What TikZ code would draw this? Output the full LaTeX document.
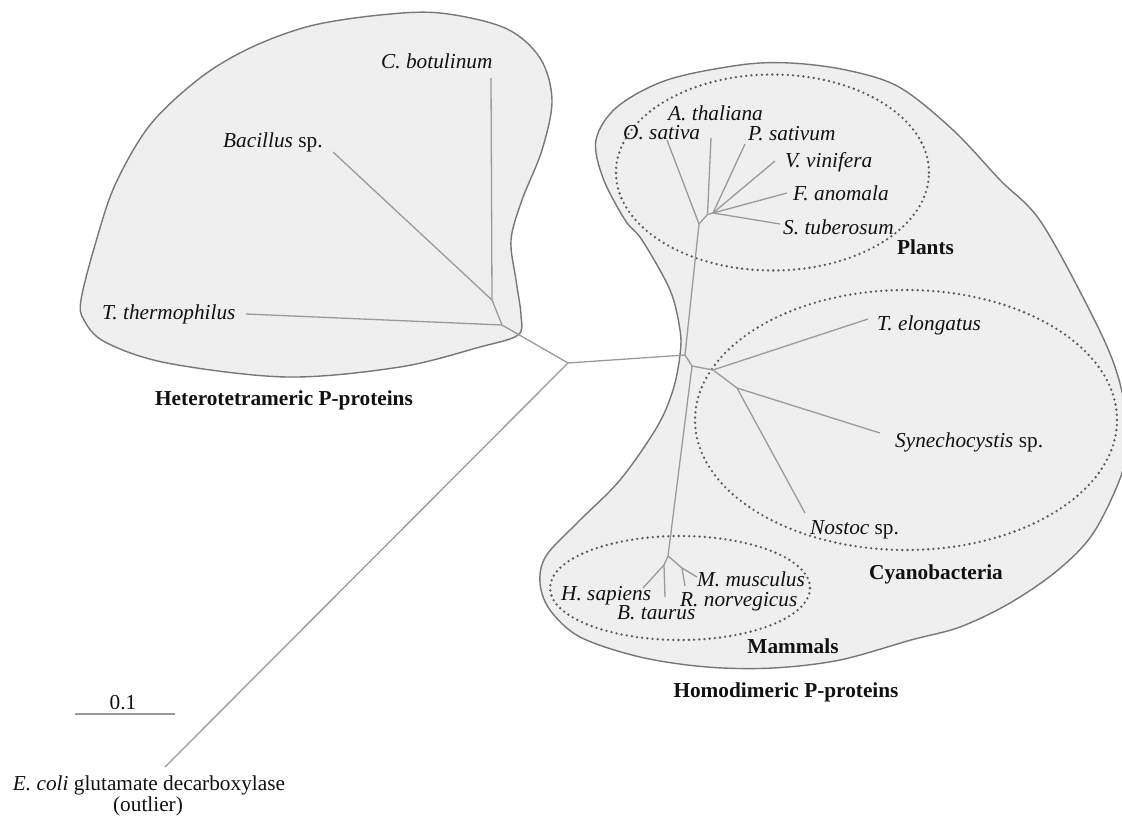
\documentclass[tikz,border=0pt]{standalone}
\usepackage{fontspec}
\setmainfont{Liberation Serif}
\definecolor{blobline}{HTML}{777777}
\definecolor{blobfill}{HTML}{EFEFEF}
\definecolor{dotc}{HTML}{5A5A5A}
\definecolor{treec}{HTML}{9A9A9A}
\definecolor{ink}{HTML}{111111}
\newcommand\taxfont{\fontsize{21.3}{24}\selectfont}
\newcommand\grpfont{\fontsize{21.3}{24}\selectfont\bfseries}
\begin{document}
\begin{tikzpicture}[x=1pt,y=-1pt,
  blob/.style={draw=blobline, fill=blobfill, line width=1.4pt},
  grp/.style={draw=dotc, line width=2.6pt, line cap=round, dash pattern=on 0pt off 5.2pt},
  branch/.style={draw=treec, line width=1.3pt},
  taxon/.style={font=\taxfont, text=ink, inner sep=0pt, anchor=base west},
  grouplabel/.style={font=\grpfont, text=ink, inner sep=0pt, anchor=base}]
\useasboundingbox (0,0) rectangle (1122,816);
\fill[white] (0,0) rectangle (1122,816);

% --- blobs ---
\draw[blob] plot[smooth cycle, tension=0.55] coordinates {
 (81,300) (95,245) (115,185) (150,125) (200,78) (250,48) (310,26) (380,15)
 (440,13) (505,28) (540,58) (552,100) (542,150) (522,200) (511,240) (516,280)
 (521,315) (518,335) (480,347) (400,367) (287,377) (167,363) (105,342) (84,320)};
\draw[blob] plot[smooth cycle, tension=0.55] coordinates {
 (596,140) (617,107) (667,80) (740,65) (790,63) (846,70) (899,87) (953,130)
 (1000,180) (1041,222) (1093,317) (1117,373) (1127,425) (1123,470) (1094,532)
 (1058,570) (1010,603) (960,627) (911,640) (840,660) (773,668) (707,667)
 (640,657) (580,637) (550,610) (540,583) (546,556) (577,523) (620,480)
 (657,427) (673,390) (680,355) (680,330) (670,290) (642,240) (625,220) (603,178)};

% --- group ellipses ---
\draw[grp] (772.5,172.5) ellipse [x radius=156.5pt, y radius=98pt];
\draw[grp] (906,420) ellipse [x radius=211pt, y radius=130pt];
\draw[grp] (680,588) ellipse [x radius=130pt, y radius=52pt];

% --- tree coordinates ---
\coordinate (C) at (568,363);
\coordinate (L1) at (492,300);
\coordinate (L2) at (502,325);
\coordinate (cbot) at (491,78);
\coordinate (bac) at (333,152);
\coordinate (tth) at (246,314);
\coordinate (ecoli) at (165,767);
\coordinate (J2) at (685,355);
\coordinate (J3) at (692,366);
\coordinate (P1) at (699,224);
\coordinate (Pa) at (707.5,214.5);
\coordinate (P2) at (713,213);
\coordinate (ath) at (711,138);
\coordinate (osa) at (667,140);
\coordinate (psa) at (745,144);
\coordinate (vvi) at (775,161);
\coordinate (fan) at (787,193);
\coordinate (stu) at (780,224);
\coordinate (K) at (713,370);
\coordinate (K2) at (737,388);
\coordinate (tel) at (868,319);
\coordinate (syn) at (880,433);
\coordinate (nos) at (805,513);
\coordinate (M) at (668,556);
\coordinate (Mb) at (664,565);
\coordinate (Mr) at (682,568);
\coordinate (hsa) at (643,588);
\coordinate (bta) at (665,597);
\coordinate (rno) at (685,586);
\coordinate (mmu) at (697,577);
\coordinate (sb1) at (75,714);
\coordinate (sb2) at (175,714);

% --- branches ---
\draw[branch] (cbot) -- (L1);
\draw[branch] (bac) -- (L1);
\draw[branch] (L1) -- (L2);
\draw[branch] (tth) -- (L2);
\draw[branch] (L2) -- (C);
\draw[branch] (C) -- (ecoli);
\draw[branch] (C) -- (J2);
\draw[branch] (J2) -- (P1);
\draw[branch] (P1) -- (osa);
\draw[branch] (P1) -- (Pa);
\draw[branch] (Pa) -- (ath);
\draw[branch] (Pa) -- (P2);
\draw[branch] (P2) -- (psa);
\draw[branch] (P2) -- (vvi);
\draw[branch] (P2) -- (fan);
\draw[branch] (P2) -- (stu);
\draw[branch] (J2) -- (J3);
\draw[branch] (J3) -- (K);
\draw[branch] (K) -- (tel);
\draw[branch] (K) -- (K2);
\draw[branch] (K2) -- (syn);
\draw[branch] (K2) -- (nos);
\draw[branch] (J3) -- (M);
\draw[branch] (M) -- (Mb);
\draw[branch] (Mb) -- (hsa);
\draw[branch] (Mb) -- (bta);
\draw[branch] (M) -- (Mr);
\draw[branch] (Mr) -- (rno);
\draw[branch] (Mr) -- (mmu);
\draw[branch] (sb1) -- (sb2);

% --- taxon labels ---
\node[taxon] (lcbot) at (381,69) {\textit{C. botulinum}};
\node[taxon] (lbac) at (223,147) {\textit{Bacillus} sp.};
\node[taxon] (ltth) at (102,319) {\textit{T. thermophilus}};
\node[taxon] (lath) at (668,120) {\textit{A. thaliana}};
\node[taxon] (losa) at (623,139) {\textit{O. sativa}};
\node[taxon] (lpsa) at (748,140) {\textit{P. sativum}};
\node[taxon] (lvvi) at (785,167) {\textit{V. vinifera}};
\node[taxon] (lfan) at (793,200) {\textit{F. anomala}};
\node[taxon] (lstu) at (783,234) {\textit{S. tuberosum}};
\node[taxon] (ltel) at (877,330) {\textit{T. elongatus}};
\node[taxon] (lsyn) at (895,447) {\textit{Synechocystis} sp.};
\node[taxon] (lnos) at (810,534) {\textit{Nostoc} sp.};
\node[taxon] (lhsa) at (561,600) {\textit{H. sapiens}};
\node[taxon] (lbta) at (617,619) {\textit{B. taurus}};
\node[taxon] (lmmu) at (697,586) {\textit{M. musculus}};
\node[taxon] (lrno) at (680,606) {\textit{R. norvegicus}};
\node[taxon, anchor=base] (lscale) at (123,709) {0.1};
\node[taxon, anchor=base] (lecoli) at (149,790) {\textit{E. coli} glutamate decarboxylase};
\node[taxon, anchor=base] (lout) at (148,811) {(outlier)};

% --- group labels ---
\node[grouplabel] (gplants) at (925.5,254) {Plants};
\node[grouplabel] (gcyano) at (936,579) {Cyanobacteria};
\node[grouplabel] (gmamm) at (793,653) {Mammals};
\node[grouplabel] (ghetero) at (284,405) {Heterotetrameric P-proteins};
\node[grouplabel] (ghomo) at (786,697) {Homodimeric P-proteins};
\end{tikzpicture}
\end{document}
